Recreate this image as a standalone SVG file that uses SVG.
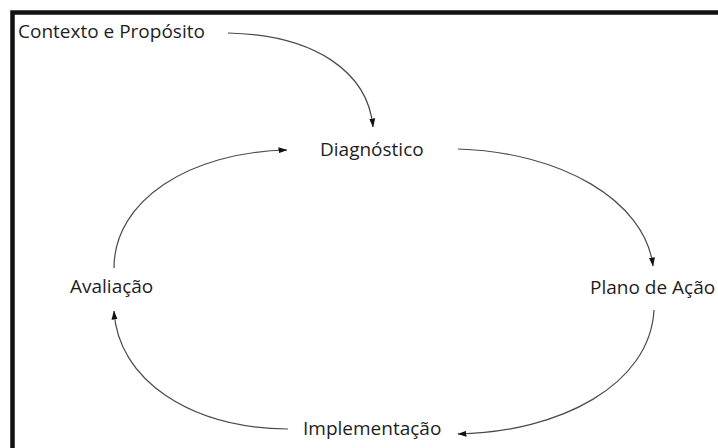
<svg xmlns="http://www.w3.org/2000/svg" width="718" height="448" viewBox="0 0 718 448">
<defs>
<style>
.lbl{font-family:"Open Sans","Liberation Sans",sans-serif;font-size:19px;fill:#1e1e1e;}
.con{fill:none;stroke:#4a4a4a;stroke-width:1.2;marker-end:url(#ah);}
</style>
<marker id="ah" markerUnits="userSpaceOnUse" markerWidth="9" markerHeight="8" viewBox="0 0 9 8" refX="8.5" refY="4" orient="auto">
<path d="M0,1 L9,4 L0,7 Z" fill="#111"/>
</marker>
</defs>
<rect width="718" height="448" fill="#fff"/>
<path d="M12.5,448 V12.5 H718" fill="none" stroke="#111" stroke-width="4.5"/>
<g id="connectors">
<path class="con" d="M228,33 C315,35 368,72 373,127"/>
<path class="con" d="M114,268 C114,200 190,152 287,150"/>
<path class="con" d="M458,149 C560,152 645,200 653,266"/>
<path class="con" d="M654,310 C650,385 560,432 458,434"/>
<path class="con" d="M288,429 C190,428 118,380 114,311"/>
</g>
<g id="contexto"><text class="lbl" x="18" y="38">Contexto e Propósito</text></g>
<g id="diagnostico"><text class="lbl" x="320" y="156">Diagnóstico</text></g>
<g id="plano"><text class="lbl" x="590" y="294">Plano de Ação</text></g>
<g id="implementacao"><text class="lbl" x="303" y="435">Implementação</text></g>
<g id="avaliacao"><text class="lbl" x="70" y="293">Avaliação</text></g>
</svg>
